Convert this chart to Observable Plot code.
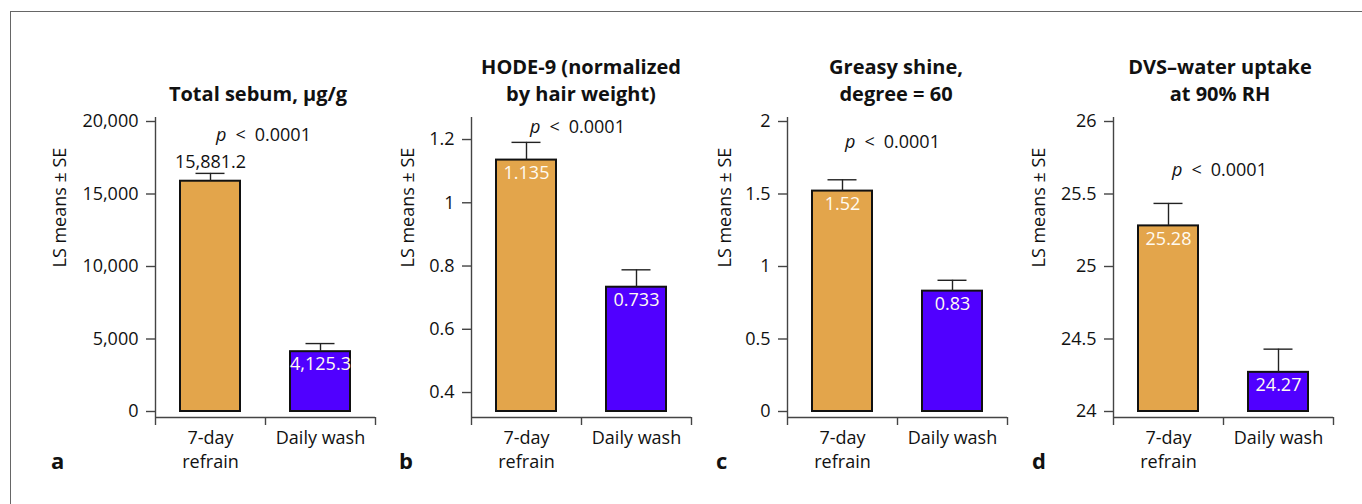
<!DOCTYPE html>
<html><head><meta charset="utf-8">
<script src="https://cdn.jsdelivr.net/npm/d3@7"></script>
<script src="https://cdn.jsdelivr.net/npm/@observablehq/plot@0.6"></script>
<style>
html,body{margin:0;padding:0;background:#fff;}
body{width:1362px;height:504px;overflow:hidden;position:relative;font-family:"Open Sans",sans-serif;}
#frame{position:absolute;left:10px;top:11px;width:1400px;height:600px;border:1.5px solid #666;box-sizing:border-box;}
.panel{position:absolute;top:0;}
.title{position:absolute;width:340px;text-align:center;font-weight:700;font-size:20px;line-height:27px;color:#111;white-space:pre;}
.letter{position:absolute;font-weight:700;font-size:22px;color:#111;line-height:22px;}
</style></head><body>
<div id="frame"></div>
<script>
// ---------- data ----------
const categories = ["7-day refrain", "Daily wash"];
const categoryTickLabels = ["7-day\nrefrain", "Daily wash"];
const panelLetters = ["a", "b", "c", "d"];
const panelTitles = ["Total sebum, µg/g", "HODE-9 (normalized\nby hair weight)", "Greasy shine,\ndegree = 60", "DVS–water uptake\nat 90% RH"];
const yAxisLabel = "LS means ± SE";
const pLabel = "p < 0.0001";
const barColors = ["#E3A54B", "#5000FF"];

const sebumMeans = [15881.2, 4125.3];
const sebumSE = [540, 560];
const sebumTicks = [0, 5000, 10000, 15000, 20000];
const sebumDomain = [0, 20000];

const hodeMeans = [1.135, 0.733];
const hodeSE = [0.056, 0.055];
const hodeTicks = [0.4, 0.6, 0.8, 1, 1.2];
const hodeDomain = [0.34, 1.257];

const shineMeans = [1.52, 0.83];
const shineSE = [0.078, 0.075];
const shineTicks = [0, 0.5, 1, 1.5, 2];
const shineDomain = [0, 2];

const dvsMeans = [25.28, 24.27];
const dvsSE = [0.155, 0.16];
const dvsTicks = [24, 24.5, 25, 25.5, 26];
const dvsDomain = [24, 26];

// ---------- layout (positions only) ----------
const layout = [
  {left: 55,   labelDx: -95, pDx: -2, pDy: 18, titleX: 258, titleTop: 79.5, letterX: 51,  aboveIdx: 0},
  {left: 371,  labelDx: -63, pDx: -4, pDy: 10, titleX: 581, titleTop: 52.5, letterX: 399, aboveIdx: -1},
  {left: 687,  labelDx: -62, pDx: -5, pDy: 25, titleX: 896, titleTop: 52.5, letterX: 716, aboveIdx: -1},
  {left: 1013, labelDx: -74, pDx: -4, pDy: 53, titleX: 1220, titleTop: 52.5, letterX: 1032, aboveIdx: -1}
];

const panels = [
  {means: sebumMeans, se: sebumSE, ticks: sebumTicks, domain: sebumDomain},
  {means: hodeMeans, se: hodeSE, ticks: hodeTicks, domain: hodeDomain},
  {means: shineMeans, se: shineSE, ticks: shineTicks, domain: shineDomain},
  {means: dvsMeans, se: dvsSE, ticks: dvsTicks, domain: dvsDomain}
];

const fmt = d3.format(",");
const axisStroke = "#444";
const W = 330, H = 504, ML = 100, MR = 10, MT = 117, MB = 87;
const halfStep = (W - ML - MR) / 4;

panels.forEach((cfg, i) => {
  const L = layout[i];
  const data = categories.map((c, j) => ({cat: c, mean: cfg.means[j], se: cfg.se[j], base: cfg.domain[0], idx: j}));
  const inside = data.filter(d => d.idx !== L.aboveIdx);
  const above = data.filter(d => d.idx === L.aboveIdx);
  const svg = Plot.plot({
    width: W, height: H,
    marginLeft: ML, marginRight: MR, marginTop: MT, marginBottom: MB,
    style: {fontFamily: "'Open Sans', sans-serif", fontSize: "18px", background: "transparent", overflow: "visible", color: "#111"},
    x: {domain: categories, paddingInner: 50/110, paddingOuter: 25/110, label: null},
    y: {domain: cfg.domain, insetTop: 4, insetBottom: 6, label: null},
    color: {domain: categories, range: barColors},
    marks: [
      // axis lines
      Plot.ruleX([categories[0]], {x: d => d, dx: -halfStep, stroke: axisStroke, strokeWidth: 1.4}),
      Plot.ruleY([cfg.domain[0]], {y: d => d, dy: 6, stroke: axisStroke, strokeWidth: 1.4}),
      Plot.barY(data, {x: "cat", y1: "base", y2: "mean", fill: "cat", stroke: "#111", strokeWidth: 2}),
      Plot.ruleX(data, {x: "cat", y1: "mean", y2: d => d.mean + d.se, stroke: "#222", strokeWidth: 1.4}),
      Plot.tickY(data, {x: "cat", y: d => d.mean + d.se, stroke: "#222", strokeWidth: 1.4, insetLeft: 15.5, insetRight: 15.5}),
      Plot.axisY({ticks: cfg.ticks, tickFormat: fmt, tickSize: 9, tickPadding: 8, label: null, stroke: axisStroke, strokeWidth: 1.4, fill: "#111"}),
      Plot.axisX({tickSize: 0, tickPadding: 10, tickFormat: d => categoryTickLabels[categories.indexOf(d)], label: null, fill: "#111", lineHeight: 1.3}),
      Plot.axisX({tickSize: 8, dx: -halfStep, tickFormat: () => "", label: null, stroke: axisStroke, strokeWidth: 1.4}),
      Plot.axisX({ticks: [categories[1]], tickSize: 8, dx: halfStep, tickFormat: () => "", label: null, stroke: axisStroke, strokeWidth: 1.4}),
      Plot.text([yAxisLabel], {frameAnchor: "left", rotate: -90, dx: L.labelDx, text: d => d, fill: "#111"}),
      Plot.text([pLabel], {frameAnchor: "top", dx: L.pDx, dy: L.pDy, text: d => d, lineAnchor: "middle", fill: "#111"}),
      Plot.text(inside, {x: "cat", y: "mean", text: d => fmt(d.mean), fill: "#fffbf2", dy: 13, lineAnchor: "middle"}),
      Plot.text(above, {x: "cat", y: d => d.mean + d.se, text: d => fmt(d.mean), fill: "#111", dy: -11, lineAnchor: "middle"})
    ]
  });
  // italic p
  svg.querySelectorAll("text").forEach(t => {
    if (t.textContent === pLabel) {
      t.textContent = "";
      const ns = "http://www.w3.org/2000/svg";
      const a = document.createElementNS(ns, "tspan");
      a.setAttribute("font-style", "italic");
      a.textContent = "p";
      t.appendChild(a);
      t.appendChild(document.createTextNode("\u2002<\u20020.0001"));
    }
  });
  svg.classList.add("panel");
  svg.style.position = "absolute";
  svg.style.left = L.left + "px";
  svg.style.top = "0px";
  document.body.appendChild(svg);

  const title = document.createElement("div");
  title.className = "title";
  title.textContent = panelTitles[i];
  title.style.left = (L.titleX - 170) + "px";
  title.style.top = L.titleTop + "px";
  document.body.appendChild(title);

  const letter = document.createElement("div");
  letter.className = "letter";
  letter.textContent = panelLetters[i];
  letter.style.left = L.letterX + "px";
  letter.style.top = "449px";
  document.body.appendChild(letter);
});
</script>
</body></html>
